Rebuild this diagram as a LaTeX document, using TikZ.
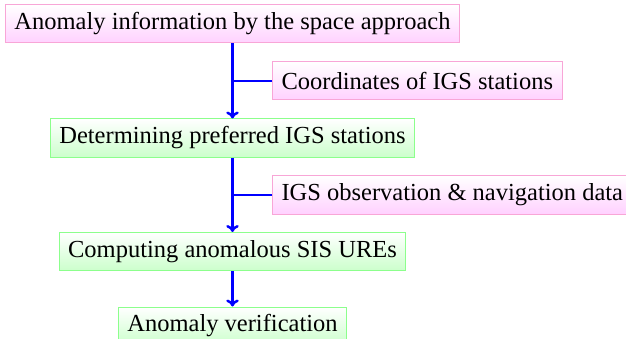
\documentclass[tikz,border=0pt]{standalone}
\usepackage{fontspec}
\setmainfont{Liberation Serif}
\usetikzlibrary{arrows.meta}
\begin{document}
\begin{tikzpicture}[x=0.4pt,y=-0.4pt,
  boxbase/.style={minimum height=15.2pt, inner xsep=3.6pt, inner ysep=0pt, font=\fontsize{9.8}{12}\selectfont},
  pinkbox/.style={boxbase, draw=magenta!35, top color=white, bottom color=magenta!18},
  greenbox/.style={boxbase, draw=green!45, top color=white, bottom color=green!20},
  flow/.style={draw=blue, line width=1pt, -{To[length=2.8pt,width=5pt]}},
  branch/.style={draw=blue, line width=1pt}]
\useasboundingbox (0,0) rectangle (626,339);
\node[pinkbox] (a) at (232.5,24) {Anomaly information by the space approach};
\node[greenbox] (b) at (232.5,138) {Determining preferred IGS stations};
\node[greenbox] (c) at (232.5,251.5) {Computing anomalous SIS UREs};
\node[greenbox] (d) at (232.5,326) {Anomaly verification};
\node[pinkbox, anchor=west] (s1) at (272,81) {Coordinates of IGS stations};
\node[pinkbox, anchor=west] (s2) at (272,195) {IGS observation \& navigation data};
\draw[flow] (a.south) -- (b.north);
\draw[flow] (b.south) -- (c.north);
\draw[flow] (c.south) -- (d.north);
\draw[branch] (s1.west) -- (s1.west -| a.south);
\draw[branch] (s2.west) -- (s2.west -| b.south);
\end{tikzpicture}
\end{document}
